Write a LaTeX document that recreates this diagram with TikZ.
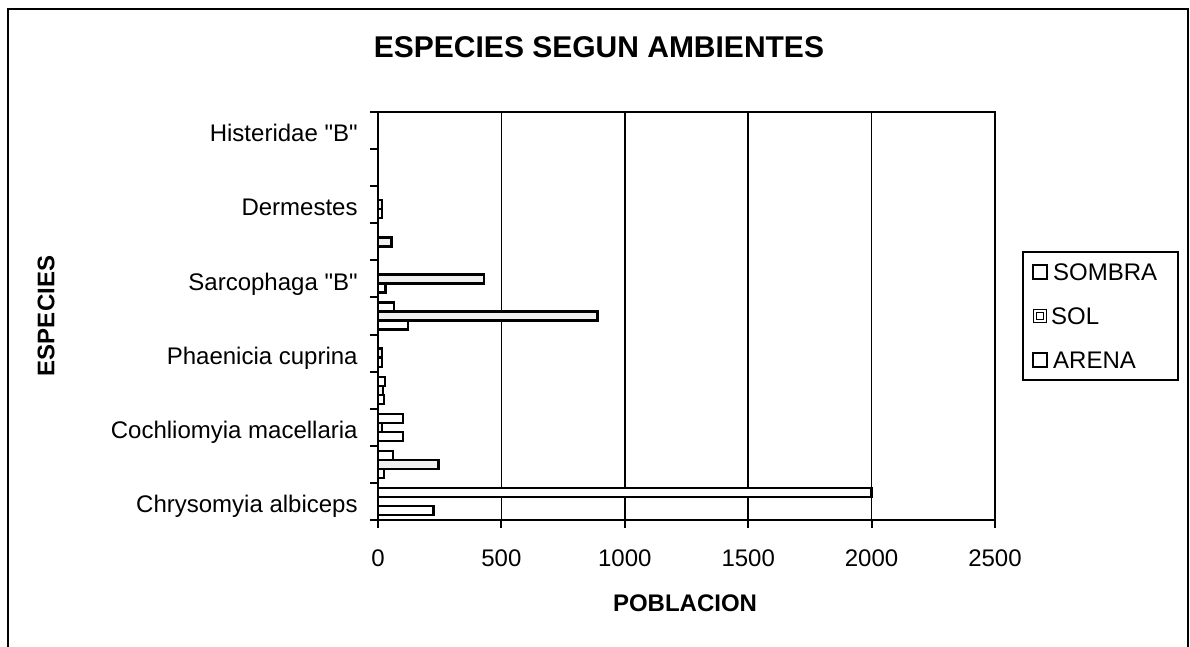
\documentclass[tikz,border=0pt]{standalone}
\usepackage{fontspec}
\setmainfont{Liberation Sans}
\usetikzlibrary{positioning}
\tikzstyle{frame} = [draw, line width=0.8pt]
\tikzstyle{axis} = [draw, line width=1pt]
\tikzstyle{grid} = [draw, line width=0.7pt]
\tikzstyle{sombra} = [draw, line width=1.1pt, fill=white]
\tikzstyle{sol} = [draw, line width=1.2pt, fill=black!6]
\tikzstyle{arena} = [draw, line width=1.1pt, fill=white]
\tikzstyle{catlabel} = [anchor=base east, inner sep=0pt, font=\fontsize{12}{14}\selectfont]
\tikzstyle{ticklabel} = [inner sep=0pt, font=\fontsize{12}{14}\selectfont]
\tikzstyle{axistitle} = [inner sep=0pt, font=\bfseries\fontsize{12}{14}\selectfont]
\tikzstyle{charttitle} = [inner sep=0pt, font=\bfseries\fontsize{15}{18}\selectfont]
\tikzstyle{legkey} = [draw, line width=0.8pt, minimum size=7pt, inner sep=0pt]
\tikzstyle{legtext} = [anchor=west, inner sep=0pt, font=\fontsize{12}{14}\selectfont]

\begin{document}
\begin{tikzpicture}[x=0.5pt, y=-0.5pt]
		\useasboundingbox (0,0) rectangle (1190,647);
		\path [frame] (8,647) -- (8,9) -- (1188,9) -- (1188,647);
		
		% plot area and grid
		\foreach \v in {500,1000,1500,2000}
		\path [grid] ({378+0.2468*\v},112) -- ({378+0.2468*\v},520);
		\path [grid] (378,112) -- (995,112) -- (995,520);
		\path [axis] (378,112) -- (378,520) -- (995,520);
		\foreach \i in {0,...,11}
		\path [axis] (370,{520-37.09*\i}) -- (378,{520-37.09*\i});
		\foreach \v in {0,500,...,2500}
		\path [axis] ({378+0.2468*\v},520) -- ({378+0.2468*\v},528);
		
		% bars
		\foreach \i/\v in {0/225,1/25,2/100,3/25,4/15,5/122,6/30,8/15}
		\path [sombra] (378,{520-37.09*\i-5}) rectangle ({378+0.2468*\v},{520-37.09*\i-14});
		\foreach \i/\v in {1/245,2/15,3/20,4/15,5/890,6/430,7/55,8/17}
		\path [sol] (378,{520-37.09*\i-14}) rectangle ({378+0.2468*\v},{520-37.09*\i-23});
		\foreach \i/\v in {0/2000,1/62,2/100,3/28,5/65}
		\path [arena] (378,{520-37.09*\i-23}) rectangle ({378+0.2468*\v},{520-37.09*\i-32});
		
		% labels
		\node [charttitle] (title) at (599,47) {ESPECIES SEGUN AMBIENTES};
		\node [catlabel] (chrysomyia) at (358,512.5) {Chrysomyia albiceps};
		\node [catlabel] (cochliomyia) at (358,438.3) {Cochliomyia macellaria};
		\node [catlabel] (phaenicia) at (358,364.1) {Phaenicia cuprina};
		\node [catlabel] (sarcophaga) at (358,290) {Sarcophaga \textquotedbl B\textquotedbl};
		\node [catlabel] (dermestes) at (358,215.8) {Dermestes};
		\node [catlabel] (histeridae) at (358,141.6) {Histeridae \textquotedbl B\textquotedbl};
		\foreach \v in {0,500,...,2500}
		\node [ticklabel] (t\v) at ({378+0.2468*\v},558) {\v};
		\node [axistitle] (poblacion) at (685,603) {POBLACION};
		\node [axistitle, rotate=90] (especies) at (46,316) {ESPECIES};
		
		% legend
		\node [draw, line width=0.8pt, minimum width=77.5pt, minimum height=64pt] (legend) at (1100.5,316) {};
		\node [legkey] (ksombra) at (1040,272) {};
		\node [legkey, double, double distance=0.8pt, minimum size=5pt] (ksol) at (1040,316) {};
		\node [legkey] (karena) at (1040,360) {};
		\node [legtext, right=2.5pt of ksombra] (lsombra) {SOMBRA};
		\node [legtext, right=2.5pt of ksol.east] (lsol) {SOL};
		\node [legtext, right=2.5pt of karena] (larena) {ARENA};
		\end{tikzpicture}
\end{document}
